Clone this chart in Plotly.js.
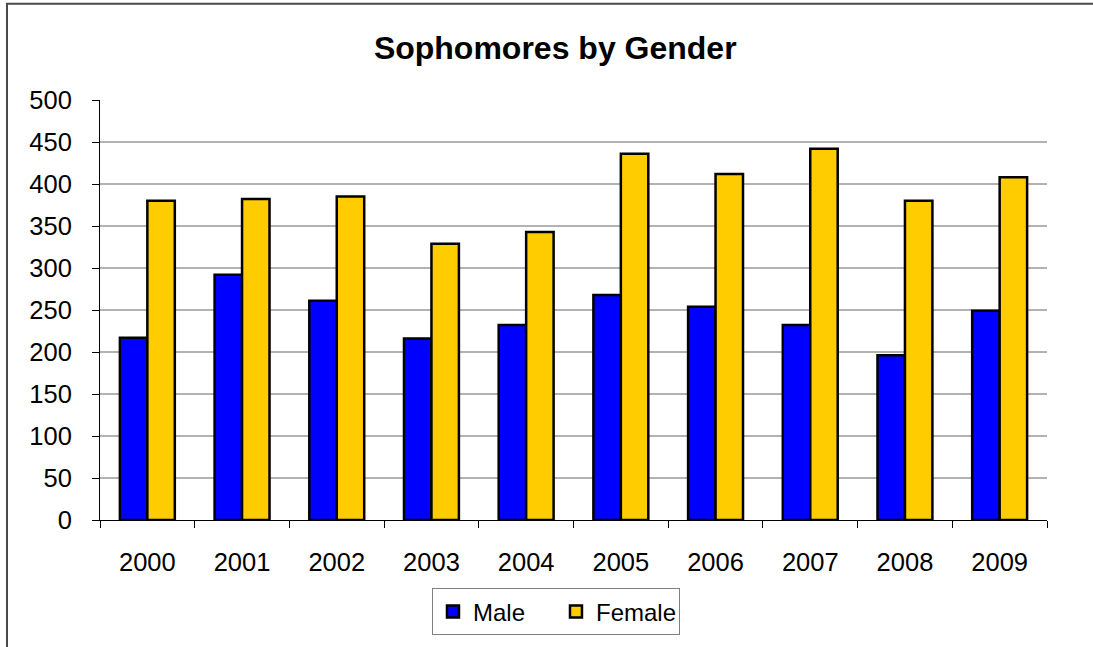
<!DOCTYPE html>
<html>
<head>
<meta charset="utf-8">
<script src="https://cdn.plot.ly/plotly-3.0.1.min.js"></script>
<style>
  html, body { margin: 0; padding: 0; background: #ffffff; }
  #chart { width: 1093px; height: 647px; }
</style>
</head>
<body>
<div id="chart"></div>
<script>
const years = ["2000", "2001", "2002", "2003", "2004", "2005", "2006", "2007", "2008", "2009"];
const male = [217, 292, 261, 216, 232, 268, 254, 232, 196, 249];
const female = [380, 382, 385, 329, 343, 436, 412, 442, 380, 408];
const yTicks = [0, 50, 100, 150, 200, 250, 300, 350, 400, 450, 500];
const gridValues = [50, 100, 150, 200, 250, 300, 350, 400, 450];

const FONT = "Liberation Sans, Arial, sans-serif";

const traces = [
  {
    type: "bar", name: "Male", x: years, y: male,
    marker: { color: "#0000FF", line: { color: "#000000", width: 2.5 } }
  },
  {
    type: "bar", name: "Female", x: years, y: female,
    marker: { color: "#FFCC00", line: { color: "#000000", width: 2.5 } }
  }
];

const shapes = gridValues.map(v => ({
  type: "line", xref: "paper", yref: "y", x0: 0, x1: 1, y0: v, y1: v,
  line: { color: "#666666", width: 1 }, layer: "below"
}));
shapes.push({
  type: "rect", xref: "paper", yref: "paper",
  x0: -0.0982, x1: 1.2, y0: -0.5, y1: 1.2293,
  line: { color: "#4a4a4a", width: 2 }, fillcolor: "rgba(0,0,0,0)", layer: "below"
});

const layout = {
  width: 1093, height: 647,
  margin: { l: 100, r: 46, t: 100, b: 121 },
  paper_bgcolor: "#ffffff", plot_bgcolor: "#ffffff",
  font: { family: FONT, color: "#000000", size: 25 },
  title: {
    text: "<b>Sophomores by Gender</b>",
    font: { family: FONT, size: 32, color: "#000000" },
    xref: "container", x: 0.508, xanchor: "center",
    yref: "container", y: 0.926, yanchor: "middle"
  },
  barmode: "group", bargap: 0.42, bargroupgap: 0,
  xaxis: {
    type: "category",
    showline: true, linecolor: "#000000", linewidth: 1,
    ticks: "outside", tickson: "boundaries", ticklen: 7, tickcolor: "#000000",
    tickfont: { family: FONT, size: 25.5, color: "#000000" },
    ticklabelstandoff: 19,
    showgrid: false, zeroline: false
  },
  yaxis: {
    range: [0, 500],
    tickvals: yTicks, ticktext: yTicks.map(String),
    showline: true, linecolor: "#000000", linewidth: 1,
    ticks: "outside", ticklen: 7, tickcolor: "#000000",
    tickfont: { family: FONT, size: 25.5, color: "#000000" },
    ticklabelstandoff: 15,
    showgrid: false, zeroline: false
  },
  showlegend: true,
  legend: {
    orientation: "h",
    x: 0.4815, xanchor: "center", xref: "paper",
    y: -0.163, yanchor: "top", yref: "paper",
    bordercolor: "#808080", borderwidth: 1, bgcolor: "#ffffff",
    font: { family: FONT, size: 24, color: "#000000" },
    entrywidth: 78, entrywidthmode: "pixels",
    traceorder: "normal"
  },
  shapes: shapes
};

Plotly.newPlot("chart", traces, layout, { staticPlot: true, displayModeBar: false });
</script>
</body>
</html>
